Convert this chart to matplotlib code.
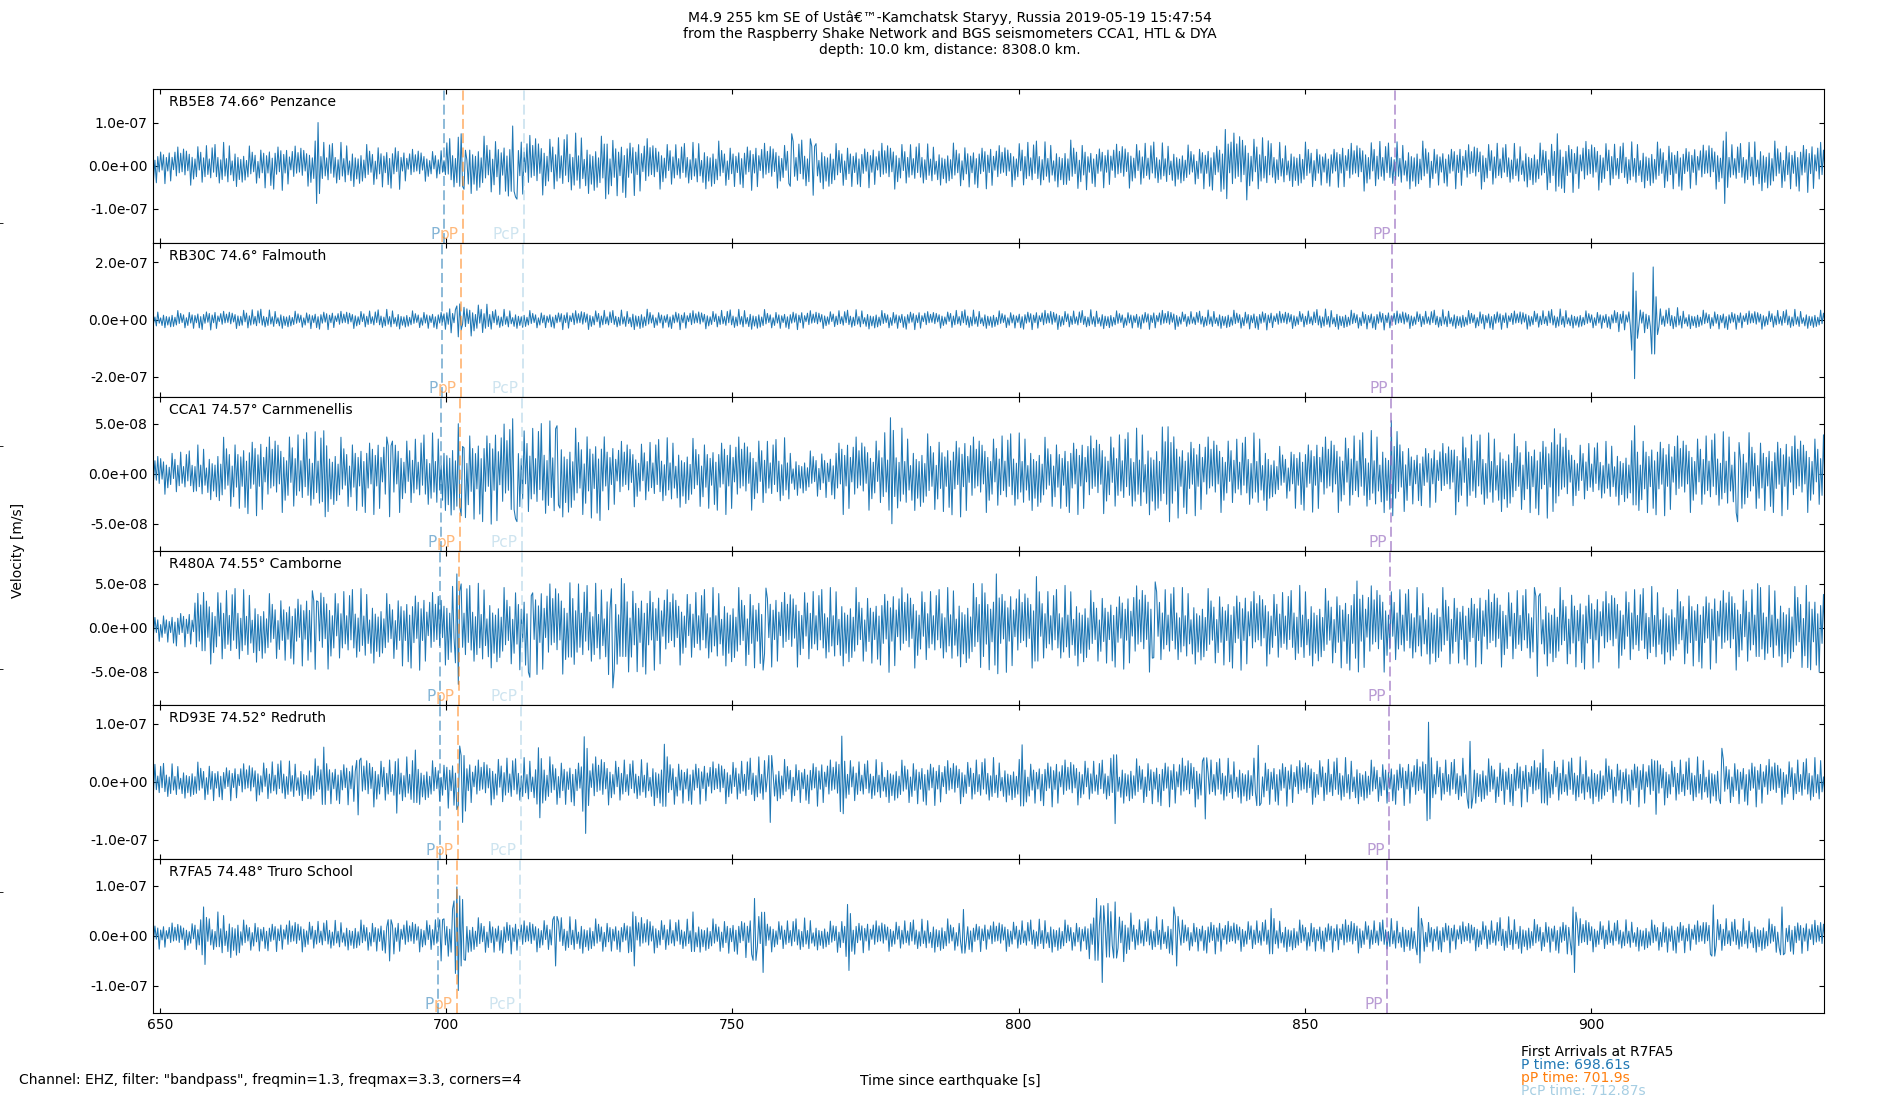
import numpy as np
import matplotlib
matplotlib.use("Agg")
import matplotlib.pyplot as plt
import matplotlib.transforms as mtransforms
from matplotlib.ticker import FormatStrFormatter

# ---- header text ----
TITLE_LINES = [
    "M4.9 255 km SE of Ust\u00e2\u20ac\u2122-Kamchatsk Staryy, Russia 2019-05-19 15:47:54",
    "from the Raspberry Shake Network and BGS seismometers CCA1, HTL & DYA",
    "depth: 10.0 km, distance: 8308.0 km.",
]
FOOTER = 'Channel: EHZ, filter: "bandpass", freqmin=1.3, freqmax=3.3, corners=4'
ARRIVAL_HEAD = "First Arrivals at R7FA5"
ARRIVAL_LINES = ["P time: 698.61s", "pP time: 701.9s", "PcP time: 712.87s"]

# ---- stations ----
STATIONS = ["RB5E8", "RB30C", "CCA1", "R480A", "RD93E", "R7FA5"]
DISTANCES = [74.66, 74.6, 74.57, 74.55, 74.52, 74.48]
PLACES = ["Penzance", "Falmouth", "Carnmenellis", "Camborne", "Redruth", "Truro School"]

# phase arrival times [s] per station
P_TIME = [699.62, 699.28, 699.11, 699.00, 698.83, 698.61]
PP_DEPTH_TIME = [702.91, 702.57, 702.40, 702.29, 702.12, 701.90]   # pP
PCP_TIME = [713.61, 713.36, 713.24, 713.16, 713.03, 712.87]
PP_TIME = [865.79, 865.31, 865.07, 864.91, 864.67, 864.35]

YLIM = [1.79e-7, 2.69e-7, 7.7e-8, 8.72e-8, 1.33e-7, 1.54e-7]
YSTEP = [1e-7, 2e-7, 5e-8, 5e-8, 1e-7, 1e-7]

T_START, T_END = 648.61, 940.70
BIN0, BIN = 648.0, 4.0

# peak amplitude per 4 s window (units 1e-8 m/s)
ENV_RB5E8 = [3.5, 4.0, 4.3, 4.5, 4.0, 4.8, 4.2, 5.0, 4.5, 4.3, 4.6, 3.5, 3.2, 5.5, 6.0, 6.2, 6.5, 6.0,
             6.3, 6.0, 6.5, 5.8, 4.8, 4.5, 5.0, 4.5, 4.8, 4.6, 5.2, 5.0, 4.5, 4.3, 4.8, 4.5, 4.2, 4.6,
             4.5, 4.3, 5.0, 4.6, 5.2, 4.3, 4.6, 4.8, 4.4, 4.2, 5.0, 7.0, 6.0, 4.5, 4.8, 4.2, 4.8, 5.2,
             4.6, 5.0, 4.2, 4.5, 4.8, 4.3, 4.6, 5.5, 5.2, 5.0, 4.6, 4.8, 5.0, 4.4, 4.8, 4.5, 5.4, 5.0,
             5.2, 5.0]
ENV_RB30C = [2.6, 2.8, 3.0, 2.7, 3.2, 2.8, 2.6, 2.9, 2.7, 2.8, 3.0, 2.7, 2.8, 4.5, 5.0, 3.0, 2.8, 2.6,
             2.9, 3.0, 2.8, 3.2, 2.7, 2.9, 2.8, 3.0, 3.1, 2.8, 2.9, 2.7, 2.9, 3.0, 2.8, 2.9, 2.6, 3.0,
             2.8, 2.7, 2.9, 3.0, 2.8, 2.9, 2.7, 2.8, 3.0, 2.6, 2.8, 2.9, 3.0, 2.7, 2.8, 3.1, 2.9, 3.0,
             2.8, 2.7, 2.9, 2.8, 3.0, 2.8, 2.9, 3.1, 2.7, 2.8, 3.5, 4.0, 3.5, 2.9, 3.0, 2.8, 2.9, 3.0,
             2.8, 2.9]
ENV_CCA1 = [1.8, 2.0, 2.4, 3.2, 3.5, 3.4, 3.6, 3.5, 3.2, 3.4, 3.4, 3.2, 3.4, 4.3, 4.2, 4.6, 4.2, 4.4,
            4.0, 4.1, 3.0, 2.9, 3.0, 3.1, 3.2, 3.4, 3.2, 3.0, 2.0, 2.2, 3.4, 3.2, 3.8, 3.4, 3.5, 3.6,
            3.4, 3.5, 3.4, 3.2, 3.4, 3.5, 3.6, 3.8, 4.1, 3.5, 3.4, 3.2, 3.4, 2.4, 3.2, 3.4, 3.5, 3.6,
            3.7, 2.8, 2.8, 3.6, 3.4, 3.5, 3.6, 3.7, 2.8, 2.7, 2.9, 3.6, 3.5, 3.4, 3.5, 3.6, 3.4, 3.5,
            3.4, 3.6]
ENV_R480A = [1.5, 1.8, 3.6, 3.9, 3.6, 3.4, 3.6, 4.1, 3.8, 3.7, 3.4, 4.0, 3.7, 4.6, 4.2, 4.0, 4.4, 4.6,
             4.6, 4.2, 4.9, 4.6, 4.0, 3.7, 3.8, 4.0, 4.2, 3.7, 3.9, 3.8, 4.0, 3.7, 4.2, 4.0, 3.8, 4.1,
             4.4, 4.2, 4.0, 3.8, 4.0, 3.7, 3.9, 4.4, 4.0, 3.8, 3.9, 4.0, 3.8, 3.7, 4.0, 3.9, 4.2, 4.4,
             4.0, 3.8, 4.0, 3.7, 4.0, 3.9, 3.8, 4.0, 4.1, 3.8, 4.0, 3.9, 3.8, 4.0, 3.9, 4.2, 4.0, 4.1,
             4.4, 4.2]
ENV_RD93E = [2.8, 2.6, 3.0, 2.7, 2.9, 3.2, 3.0, 3.5, 3.3, 3.8, 3.5, 3.6, 3.2, 4.2, 3.5, 3.8, 3.5, 3.8,
             3.6, 4.0, 3.5, 3.2, 3.8, 3.4, 3.2, 3.3, 3.6, 3.4, 3.3, 3.5, 3.6, 3.2, 3.3, 3.5, 3.4, 3.3,
             3.5, 3.2, 3.4, 3.6, 3.5, 3.3, 3.4, 3.5, 3.6, 3.8, 3.5, 3.4, 3.6, 3.5, 3.4, 3.6, 3.5, 3.3,
             3.4, 3.6, 3.5, 3.4, 3.5, 3.6, 3.4, 3.5, 3.6, 3.5, 3.4, 3.6, 3.5, 3.6, 3.4, 3.5, 3.6, 3.4,
             3.5, 3.6]
ENV_R7FA5 = [2.2, 2.4, 3.0, 4.0, 2.8, 2.6, 2.8, 2.7, 2.6, 2.8, 3.0, 2.8, 3.0, 4.5, 3.2, 3.0, 2.8, 3.0,
             3.2, 3.0, 2.8, 3.4, 3.0, 2.8, 3.0, 3.2, 3.6, 2.8, 3.0, 2.6, 3.2, 2.8, 2.7, 2.8, 3.0, 2.8,
             2.6, 2.7, 2.8, 3.0, 2.8, 4.0, 4.5, 3.0, 3.2, 2.8, 3.0, 2.7, 2.8, 2.9, 2.8, 2.7, 3.0, 2.8,
             2.9, 3.0, 2.8, 2.6, 2.8, 3.2, 2.9, 3.0, 3.2, 2.8, 2.7, 2.8, 3.0, 2.8, 3.2, 2.9, 3.0, 3.2,
             2.9, 2.8]

# single large swings (time [s], value in 1e-8 m/s)
SPK_RB5E8 = [(677.40, -8.8), (677.65, 10.0), (702.70, 7.4), (703.00, -5.5), (711.70, 9.2),
             (712.00, -7.3), (727.80, -7.7), (760.30, 7.4), (764.00, -6.9), (836.00, 8.4),
             (836.30, -7.7), (894.00, 7.4), (923.30, -8.8), (923.60, 7.8)]
SPK_RB30C = [(701.80, 4.8), (702.10, -6.0), (702.40, 5.5), (907.30, 16.4), (907.55, -20.6),
             (907.80, 10.0), (910.80, 18.4), (911.05, -12.0), (911.30, 8.0)]
SPK_CCA1 = [(678.60, 4.3), (678.85, -4.3), (690.00, -4.3), (702.20, 5.0), (702.50, -4.2),
            (711.70, 5.5), (712.00, -4.5), (719.30, 4.8), (777.50, 5.6), (777.75, -5.0),
            (826.00, 4.7), (826.30, -4.8), (865.00, 5.3), (865.30, -4.2), (893.50, 4.5),
            (907.70, 4.8), (925.60, -4.8)]
SPK_R480A = [(657.50, 4.0), (676.70, 4.2), (677.00, -4.7), (701.80, 6.1), (702.10, -6.4),
             (714.60, -5.6), (721.70, 5.1), (729.00, -6.8), (731.00, 5.0), (755.80, 4.5),
             (793.60, 5.0), (796.00, 6.1), (796.30, -5.2), (803.00, 5.8), (823.90, 5.2),
             (859.00, 5.3), (859.30, -5.0), (890.60, -5.5), (929.00, 5.0), (937.50, 4.8),
             (937.80, -4.5)]
SPK_RD93E = [(678.60, 6.0), (684.70, -5.7), (691.40, -5.4), (694.70, 5.5), (702.30, 6.2),
             (702.80, -7.0), (716.00, 5.9), (716.30, -6.2), (724.00, 7.8), (724.30, -8.9),
             (738.20, 6.5), (756.70, -7.0), (769.00, 7.9), (769.30, -5.5), (800.70, 6.4),
             (816.80, -7.2), (832.70, -6.4), (841.90, 6.3), (871.50, 10.3), (871.80, -6.4),
             (878.80, 7.0), (891.60, 5.6), (911.40, -5.6), (922.80, 5.8)]
SPK_R7FA5 = [(657.50, 5.8), (657.75, -5.7), (690.00, -5.0), (699.00, -5.0), (701.30, 7.0),
             (701.55, -7.5), (701.80, 9.8), (702.05, -10.9), (702.30, 8.0), (702.55, -6.0),
             (702.80, 7.3), (719.10, -6.0), (732.50, 4.8), (732.75, -6.0), (743.00, 4.8),
             (753.90, 7.5), (755.30, -7.3), (770.00, 6.3), (770.25, -6.9), (790.30, 5.3),
             (813.50, 7.5), (814.50, -9.3), (815.50, 6.5), (816.80, 6.8), (827.20, 5.8),
             (827.50, -6.0), (844.20, 5.5), (869.80, 5.8), (870.10, -5.4), (896.80, 5.8),
             (897.10, -7.3), (921.40, 6.2), (933.40, 5.8)]

ENVS = [ENV_RB5E8, ENV_RB30C, ENV_CCA1, ENV_R480A, ENV_RD93E, ENV_R7FA5]
SPIKES = [SPK_RB5E8, SPK_RB30C, SPK_CCA1, SPK_R480A, SPK_RD93E, SPK_R7FA5]

# relative size of successive swings inside a window (wiggle texture)
TEXTURE = [0.66, 0.96, 0.36, 1.14, 0.6, 0.42, 0.9, 0.3, 0.72, 1.2, 0.54, 0.36, 0.84, 1.02,
           0.48, 0.24, 0.78, 0.6, 1.08, 0.42, 0.72, 0.36, 0.96, 0.54, 0.84, 0.3, 0.66, 1.14,
           0.48, 0.78, 0.36, 0.6, 1.02, 0.24, 0.72, 0.9, 0.42, 0.6, 1.08, 0.48, 0.36]
STEP = 0.25

PHASES = [
    ("P", P_TIME, "#1f77b4", 0.55),
    ("pP", PP_DEPTH_TIME, "#ff7f0e", 0.55),
    ("PcP", PCP_TIME, "#a6cee3", 0.55),
    ("PP", PP_TIME, "#9467bd", 0.65),
]


def build_trace(env, spikes, offset):
    t = np.arange(T_START, T_END + STEP, STEP)
    k = np.arange(len(t))
    b = np.clip(((t - BIN0) // BIN).astype(int), 0, len(env) - 1)
    amp = np.asarray(env)[b] * np.asarray(TEXTURE)[(k + offset) % len(TEXTURE)]
    y = np.where(k % 2 == 0, amp, -amp)
    # large swings come as short packets: the neighbours swing back
    for ts, v in spikes:
        i = int(round((ts - T_START) / STEP))
        for j in (i - 1, i + 1):
            if 0 <= j < len(y) and abs(y[j]) < 0.65 * abs(v):
                y[j] = -0.65 * v
    for ts, v in spikes:
        i = int(round((ts - T_START) / STEP))
        y[i] = v
    return t, y * 1e-8


fig = plt.figure(figsize=(19, 11), dpi=100)

# frameless helper axes (only its tick marks peek out at the left edge)
hax = fig.add_axes([0.0018, -0.0137, 0.99, 1.0137], frameon=False)
hax.set_xticks([])
hax.set_yticks([0.2, 0.4, 0.6, 0.8])
hax.tick_params(labelleft=False, width=0.6)
hax.set_ylim(0, 1)

axs = fig.subplots(6, 1, sharex=True,
                   gridspec_kw=dict(hspace=0, left=0.0803, right=0.96, top=0.9195, bottom=0.0791))

for i, ax in enumerate(axs):
    t, y = build_trace(ENVS[i], SPIKES[i], offset=9 * i)
    ax.plot(t, y, color="#1f77b4", lw=0.75)
    trans = mtransforms.blended_transform_factory(ax.transData, ax.transAxes)
    for name, times, col, a in PHASES:
        ax.axvline(times[i], color=col, alpha=a, lw=1.3, linestyle=(0, (5.5, 2.4)))
        ax.text(times[i] - 0.75, 0.023, name, transform=trans, ha="right", va="baseline",
                color=col, alpha=a, fontsize=11)
    ax.text(0.01, 0.96, f"{STATIONS[i]} {DISTANCES[i]}\u00b0 {PLACES[i]}",
            transform=ax.transAxes, ha="left", va="top", fontsize=10)
    ax.set_ylim(-YLIM[i], YLIM[i])
    ax.set_yticks([-YSTEP[i], 0, YSTEP[i]])
    ax.yaxis.set_major_formatter(FormatStrFormatter("%.1e"))
    ax.tick_params(direction="in", top=True, right=True)

axs[-1].set_xlim(648.7, 940.7)
axs[-1].set_xticks([650, 700, 750, 800, 850, 900])

for j, line in enumerate(TITLE_LINES):
    fig.text(0.5, 0.9835 - j * 0.0143, line, ha="center", va="center", fontsize=10)

fig.text(0.0095, 0.4993, "Velocity [m/s]", rotation=90, ha="center", va="center", fontsize=10)
fig.text(0.5, 0.0173, "Time since earthquake [s]", ha="center", va="center", fontsize=10)
fig.text(0.0099, 0.0182, FOOTER, ha="left", va="center", fontsize=10)

fig.text(0.8004, 0.0439, ARRIVAL_HEAD, ha="left", va="center", fontsize=10, color="black")
for j, (line, col) in enumerate(zip(ARRIVAL_LINES, ["#1f77b4", "#ff7f0e", "#a6cee3"])):
    fig.text(0.8004, 0.0318 - j * 0.0118, line, ha="left", va="center", fontsize=10, color=col)

fig.savefig("out.png", dpi=100)
